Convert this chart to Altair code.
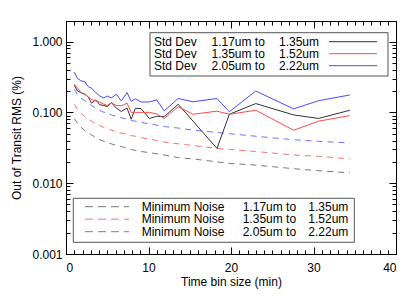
import altair as alt
import pandas as pd

# ---- data ----
bin_min = [1.0, 1.4, 1.8, 2.3, 2.7, 3.1, 3.6, 4.1, 4.6, 5.0, 5.5, 6.1, 6.7, 7.4,
           7.9, 8.4, 9.1, 10.1, 11.0, 11.9, 13.6, 15.4, 18.3, 19.8, 23.0, 27.6, 30.6, 34.4]

std_117 = [0.24, 0.20, 0.19, 0.18, 0.165, 0.135, 0.15, 0.128, 0.125, 0.12, 0.137, 0.115, 0.103, 0.115,
           0.08, 0.114, 0.113, 0.082, 0.088, 0.087, 0.13, 0.075, 0.031, 0.094, 0.133, 0.092, 0.082, 0.107]
std_135 = [0.25, 0.22, 0.19, 0.18, 0.165, 0.152, 0.145, 0.14, 0.13, 0.125, 0.137, 0.125, 0.124, 0.135,
           0.10, 0.10, 0.10, 0.10, 0.095, 0.082, 0.12, 0.094, 0.104, 0.094, 0.107, 0.056, 0.075, 0.09]
std_205 = [0.37, 0.30, 0.28, 0.27, 0.23, 0.22, 0.19, 0.17, 0.16, 0.17, 0.16, 0.18, 0.145, 0.19,
           0.143, 0.155, 0.14, 0.14, 0.15, 0.105, 0.157, 0.141, 0.157, 0.102, 0.20, 0.112, 0.146, 0.176]

noise_117 = [0.082, 0.07, 0.062, 0.055, 0.051, 0.048, 0.044, 0.041, 0.039, 0.037, 0.036, 0.034, 0.033, 0.031,
             0.030, 0.029, 0.028, 0.027, 0.026, 0.025, 0.023, 0.022, 0.020, 0.019, 0.018, 0.016, 0.015, 0.014]
noise_135 = [0.13, 0.11, 0.097, 0.087, 0.08, 0.075, 0.069, 0.065, 0.061, 0.058, 0.056, 0.053, 0.051, 0.049,
             0.047, 0.046, 0.044, 0.042, 0.040, 0.038, 0.036, 0.034, 0.031, 0.030, 0.028, 0.025, 0.024, 0.022]
noise_205 = [0.21, 0.18, 0.16, 0.145, 0.135, 0.125, 0.115, 0.107, 0.100, 0.096, 0.092, 0.088, 0.084, 0.080,
             0.077, 0.075, 0.072, 0.069, 0.066, 0.063, 0.060, 0.056, 0.052, 0.050, 0.046, 0.041, 0.039, 0.037]

std_names = ["Std Dev", "Std Dev", "Std Dev"]
noise_names = ["Minimum Noise", "Minimum Noise", "Minimum Noise"]
band_from = ["1.17um to", "1.35um to", "2.05um to"]
band_to = ["1.35um", "1.52um", "2.22um"]

x_major = [0, 10, 20, 30, 40]
x_minor = list(range(0, 41))
y_major = [0.001, 0.01, 0.1, 1.0]
y_minor = [m * 10.0 ** k for k in (-3, -2, -1) for m in range(2, 10)]

W, H = 330, 233
FONT = "Liberation Sans"
solid_colors = ["#333333", "#ff4a4a", "#4a4aff"]
dash_colors = ["#777777", "#ff7070", "#7070ff"]

df = pd.DataFrame({"t": bin_min,
                   "s117": std_117, "s135": std_135, "s205": std_205,
                   "n117": noise_117, "n135": noise_135, "n205": noise_205})

xs = alt.Scale(domain=[0, 40], nice=False, zero=False)
ys = alt.Scale(type="log", domain=[0.001, 1.95], nice=False)

def line_layer(field, color, dashed):
    kw = dict(color=color, strokeWidth=1, clip=True)
    if dashed:
        kw["strokeDash"] = [6, 5]
    return alt.Chart(df).mark_line(**kw).encode(
        x=alt.X("t:Q", scale=xs, axis=None),
        y=alt.Y(field + ":Q", scale=ys, axis=None),
    )

lines = [
    line_layer("n117", dash_colors[0], True),
    line_layer("n135", dash_colors[1], True),
    line_layer("n205", dash_colors[2], True),
    line_layer("s117", solid_colors[0], False),
    line_layer("s135", solid_colors[1], False),
    line_layer("s205", solid_colors[2], False),
]

def axis_layer(xaxis, yaxis):
    return alt.Chart(df).mark_point(opacity=0).encode(
        x=alt.X("t:Q", scale=xs, axis=xaxis),
        y=alt.Y("s117:Q", scale=ys, axis=yaxis),
    )

ax_labels = axis_layer(
    alt.Axis(orient="bottom", values=x_major, ticks=False, labelPadding=8,
             labelFont=FONT, labelFontSize=12, labelColor="black",
             title="Time bin size (min)", titleFont=FONT, titleFontSize=12,
             titleFontWeight="normal", titleColor="black", titlePadding=3,
             domain=False, grid=False),
    alt.Axis(orient="left", values=y_major, format=".3f", ticks=False, labelPadding=4,
             labelFont=FONT, labelFontSize=12, labelColor="black",
             title="Out of Transit RMS (%)", titleFont=FONT, titleFontSize=12,
             titleFontWeight="normal", titleColor="black", titlePadding=8,
             domain=False, grid=False),
)

def tick_axis(orient, values, size, offset):
    return alt.Axis(orient=orient, values=values, tickSize=size, offset=offset,
                    labels=False, title=None, domain=False, grid=False,
                    tickColor="black", tickWidth=1)

ax2 = axis_layer(tick_axis("top", x_major, 7, -H), tick_axis("right", y_major, 7, -W))
ax3 = axis_layer(tick_axis("top", x_minor, 4, -H), tick_axis("right", y_minor, 4, -W))
ax4 = axis_layer(tick_axis("bottom", x_major, 7, -H), tick_axis("left", y_major, 7, -W))
ax5 = axis_layer(tick_axis("bottom", x_minor, 4, -H), tick_axis("left", y_minor, 4, -W))

one = alt.Data(values=[{}])

def box(x1, x2, y1, y2):
    return alt.Chart(one).mark_rect(fill="white", stroke="#555555", strokeWidth=1).encode(
        x=alt.value(x1), x2=alt.value(x2), y=alt.value(y1), y2=alt.value(y2))

def text_col(lines_, x, y_first, lh):
    return alt.Chart(one).mark_text(align="left", baseline="middle", font=FONT, fontSize=12,
                                    color="black", lineHeight=lh).encode(
        x=alt.value(x), y=alt.value(y_first), text=alt.value(lines_))

def sample(x1, x2, y, color, dashed):
    kw = dict(color=color, strokeWidth=1)
    if dashed:
        kw["strokeDash"] = [8, 5]
    return alt.Chart(one).mark_rule(**kw).encode(
        x=alt.value(x1), x2=alt.value(x2), y=alt.value(y))

# legend 1 (Std Dev, samples on the right)
leg1 = [box(84, 322, 11.7, 55),
        text_col(std_names, 88, 20.7, 12),
        text_col(band_from, 145.5, 20.7, 12),
        text_col(band_to, 213, 20.7, 12)]
for i in range(3):
    leg1.append(sample(263, 311, 20.7 + 12 * i, solid_colors[i], False))

# legend 2 (Minimum Noise, samples on the left)
leg2 = [box(7.3, 288.3, 177.3, 221.3),
        text_col(noise_names, 75.7, 185.7, 12.5),
        text_col(band_from, 176.7, 185.7, 12.5),
        text_col(band_to, 242.3, 185.7, 12.5)]
for i in range(3):
    leg2.append(sample(19, 63, 185.7 + 12.5 * i, dash_colors[i], True))

chart = alt.layer(
    *lines, ax_labels, ax2, ax3, ax4, ax5, *leg1, *leg2
).resolve_axis(x="independent", y="independent").properties(
    width=W, height=H,
    autosize=alt.AutoSizeParams(type="none"),
    padding={"left": 58, "top": 13, "right": 11, "bottom": 35},
    background="white",
).configure_view(stroke="black", strokeWidth=1)

chart.save("out.html", embed_options={"renderer": "svg", "actions": False})
